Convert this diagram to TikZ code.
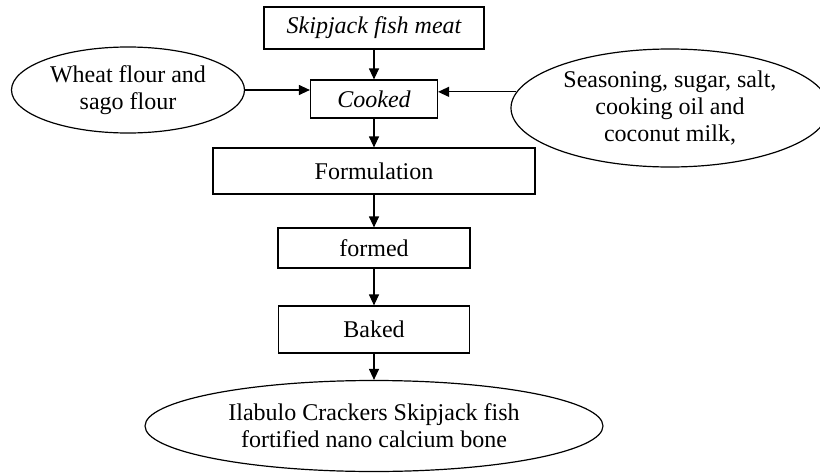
\documentclass[tikz,border=0pt]{standalone}
\usepackage{fontspec}
\setmainfont{Liberation Serif}
\usetikzlibrary{shapes.geometric,arrows.meta}
\tikzset{
every picture/.style={
line width=1.2pt
},
box/.style={draw, inner sep=0pt, font=\fontsize{24}{27}\selectfont},
oval/.style={draw, ellipse, inner sep=0pt, align=center, font=\fontsize{24}{27}\selectfont},
flow/.style={-{Triangle[length=11pt,width=10pt]}}
}

\begin{document}
\begin{tikzpicture}[x=1pt,y=-1pt]
\useasboundingbox (0,0) rectangle (820,474);

\node[box, minimum width=220pt, minimum height=42pt] (meat) at (374,28) {\itshape Skipjack fish meat};
\node[box, minimum width=127pt, minimum height=38pt] (cooked) at (374,99) {\itshape Cooked};
\node[oval, minimum width=233pt, minimum height=86pt] (flour) at (128,90) {Wheat flour and\\sago flour};
\node[oval, minimum width=318pt, minimum height=118pt] (season) at (670,108) {Seasoning, sugar, salt,\\cooking oil and\\coconut milk,};
\node[box, minimum width=322pt, minimum height=46pt] (form) at (374,171) {Formulation};
\node[box, minimum width=192pt, minimum height=40pt] (formed) at (374,248) {formed};
\node[box, minimum width=191pt, minimum height=47pt] (baked) at (374,329.5) {Baked};
\node[oval, minimum width=458pt, minimum height=91pt] (crackers) at (374,426) {Ilabulo Crackers Skipjack fish\\fortified nano calcium bone};

\foreach \a/\b in {meat/cooked, cooked/form, form/formed, formed/baked, baked/crackers}{
  \draw[flow] (\a) -- (\b);
}

\draw[flow] (flour.east) -- (flour.east -| cooked.west);
\draw[flow] (season.174) -- (season.174 -| cooked.east);
\end{tikzpicture}
\end{document}
